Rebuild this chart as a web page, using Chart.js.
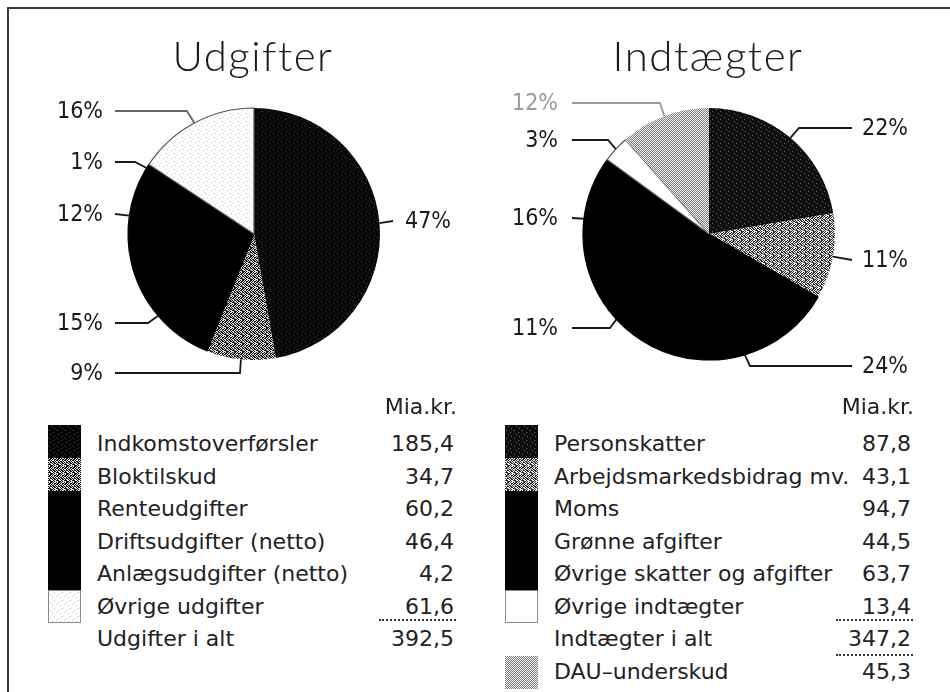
<!DOCTYPE html>
<html>
<head>
<meta charset="utf-8">
<script src="https://cdn.jsdelivr.net/npm/chart.js@4.4.1/dist/chart.umd.min.js"></script>
<style>
  html, body { margin: 0; padding: 0; background: #fff; }
  body { width: 950px; height: 692px; position: relative; overflow: hidden; font-family: 'DejaVu Sans', sans-serif; color: #222; }
  .frameTop { position: absolute; left: 7px; top: 7px; width: 943px; height: 0; border-top: 2px solid #3a3a3a; }
  .frameLeft { position: absolute; left: 7px; top: 7px; width: 0; height: 685px; border-left: 2px solid #3a3a3a; }
  canvas.pie { position: absolute; top: 0; }
  .txt { position: absolute; font-size: 22px; line-height: 26px; white-space: nowrap; }
  .val { text-align: right; }
  .sw { position: absolute; box-sizing: border-box; }
  .rule { position: absolute; height: 0; border-top: 2px dotted #333; }
</style>
</head>
<body>
<div class="frameTop"></div>
<div class="frameLeft"></div>
<canvas id="cUdg" class="pie" width="475" height="400" style="left:0px"></canvas>
<canvas id="cInd" class="pie" width="475" height="400" style="left:475px"></canvas>
<div id="legend"></div>
<script>
// ---------------- data ----------------
const udgTitle = 'Udgifter';
const udgLabels = ['Indkomstoverførsler', 'Bloktilskud', 'Renteudgifter', 'Driftsudgifter (netto)', 'Anlægsudgifter (netto)', 'Øvrige udgifter'];
const udgValues = [185.4, 34.7, 60.2, 46.4, 4.2, 61.6];
const udgTotalLabel = 'Udgifter i alt';

const indTitle = 'Indtægter';
const indLabels = ['Personskatter', 'Arbejdsmarkedsbidrag mv.', 'Moms', 'Grønne afgifter', 'Øvrige skatter og afgifter', 'Øvrige indtægter'];
const indValues = [87.8, 43.1, 94.7, 44.5, 63.7, 13.4];
const indTotalLabel = 'Indtægter i alt';
const dauLabel = 'DAU–underskud';
const dauValue = 45.3;

const unitLabel = 'Mia.kr.';

// ---------------- styles (patterns) ----------------
function tile(mask, dark, light) {
  const h = mask.length, w = mask[0].length;
  const c = document.createElement('canvas');
  c.width = w; c.height = h;
  const g = c.getContext('2d');
  for (let y = 0; y < h; y++) for (let x = 0; x < w; x++) {
    g.fillStyle = mask[y][x] === '1' ? dark : light;
    g.fillRect(x, y, 1, 1);
  }
  return c;
}
const mottle = ['10110100','01101011','11010010','00101101','10110110','01001011','11100100','00111010'];
const specks = ['11111111','11101111','11111111','11111101','11111111','10111111','11111111','11111011'];
const dots   = ['00000000','00000100','00000000','01000000','00000000','00000001','00010000','00000000'];
const tiles = {
  blackSpeck: tile(specks, '#080808', '#444444'),
  blackSpeck2: tile(specks, '#0e0e0e', '#666666'),
  mottleDark: tile(mottle, '#141414', '#d8d8d8'),
  mottleLight: tile(mottle, '#2a2a2a', '#f2f2f2'),
  check: tile(['10','01'], '#7a7a7a', '#f4f4f4'),
  dotted: tile(dots, '#c4c4c4', '#fdfdfd'),
};
const pctx = document.createElement('canvas').getContext('2d');
const pat = k => pctx.createPattern(tiles[k], 'repeat');
const cssBg = k => 'url(' + tiles[k].toDataURL() + ')';

const udgStyle = ['blackSpeck', 'mottleDark', '#000', '#000', '#000', 'dotted'];
const indStyle = ['blackSpeck2', 'mottleLight', '#000', '#000', '#000', '#ffffff', 'check'];
const fillOf = s => tiles[s] ? pat(s) : s;
const cssOf = s => tiles[s] ? cssBg(s) : s;
const isLight = s => (s === 'dotted' || s === '#ffffff');

// label layout (page coordinates): text anchor, line start, elbow
const udgLayout = [
  { align: 'left',  tx: 405, y: 221, ls: 393, elbow: null },
  { align: 'right', tx: 103, y: 373, ls: 115, elbow: 240 },
  { align: 'right', tx: 103, y: 323, ls: 115, elbow: 148 },
  { align: 'right', tx: 103, y: 214, ls: 115, elbow: null },
  { align: 'right', tx: 103, y: 162, ls: 115, elbow: 135 },
  { align: 'right', tx: 103, y: 111, ls: 115, elbow: 187, lineColor: '#666' },
];
const indLayout = [
  { align: 'left',  tx: 862, y: 128, ls: 852, elbow: 799 },
  { align: 'left',  tx: 862, y: 260, ls: 852, elbow: null },
  { align: 'left',  tx: 862, y: 366, ls: 852, elbow: 750 },
  { align: 'right', tx: 558, y: 328, ls: 572, elbow: 610 },
  { align: 'right', tx: 558, y: 218, ls: 572, elbow: null },
  { align: 'right', tx: 558, y: 140, ls: 572, elbow: 608 },
  { align: 'right', tx: 558, y: 103, ls: 572, elbow: 660, color: '#9a9a9a', lineColor: '#9a9a9a' },
];

const leaderPlugin = {
  id: 'leaderLabels',
  afterDatasetsDraw(chart, args, opts) {
    const ctx = chart.ctx;
    const meta = chart.getDatasetMeta(0);
    const data = chart.data.datasets[0].data;
    const total = data.reduce((a, b) => a + b, 0);
    const off = opts.offsetX;
    ctx.save();
    meta.data.forEach((arc, i) => {
      const L = opts.layout[i];
      const p = arc.getProps(['x', 'y', 'startAngle', 'endAngle', 'outerRadius'], true);
      const mid = (p.startAngle + p.endAngle) / 2;
      const ex = p.x + Math.cos(mid) * p.outerRadius;
      const ey = p.y + Math.sin(mid) * p.outerRadius;
      ctx.beginPath();
      ctx.strokeStyle = L.lineColor || '#1a1a1a';
      ctx.lineWidth = 1.8;
      ctx.moveTo(L.ls - off, L.y);
      if (L.elbow !== null) ctx.lineTo(L.elbow - off, L.y);
      ctx.lineTo(ex, ey);
      ctx.stroke();
      ctx.fillStyle = L.color || '#1a1a1a';
      ctx.font = "23px 'DejaVu Sans Condensed', 'DejaVu Sans'";
      ctx.textAlign = L.align;
      ctx.textBaseline = 'middle';
      ctx.fillText(Math.round(data[i] / total * 100) + '%', L.tx - off, L.y + 1);
    });
    // title
    const ca = chart.chartArea;
    ctx.fillStyle = '#1a1a1a';
    ctx.font = "300 42px Lato, 'Open Sans', 'DejaVu Sans'";
    if ('letterSpacing' in ctx) ctx.letterSpacing = '1.5px';
    ctx.textAlign = 'center';
    ctx.textBaseline = 'alphabetic';
    ctx.fillText(opts.title, (ca.left + ca.right) / 2 - 1, 71);
    ctx.restore();
  }
};

function makePie(id, labels, values, styles, layout, title, offsetX, padding) {
  return new Chart(document.getElementById(id), {
    type: 'pie',
    data: {
      labels: labels,
      datasets: [{
        data: values,
        backgroundColor: styles.map(fillOf),
        borderColor: styles.map(s => isLight(s) ? '#555' : (s === '#000' ? '#000' : 'rgba(0,0,0,0)')),
        borderWidth: styles.map(s => (isLight(s) || s === '#000') ? 1.2 : 0),
      }]
    },
    options: {
      responsive: false,
      animation: false,
      radius: 126,
      layout: { padding: padding },
      plugins: {
        legend: { display: false },
        tooltip: { enabled: false },
        leaderLabels: { layout: layout, title: title, offsetX: offsetX },
      }
    },
    plugins: [leaderPlugin]
  });
}

function drawAll() {
  makePie('cUdg', udgLabels, udgValues, udgStyle, udgLayout, udgTitle, 0, { left: 128, right: 95, top: 108, bottom: 40 });
  makePie('cInd', indLabels.concat([dauLabel]), indValues.concat([dauValue]), indStyle, indLayout, indTitle, 475, { left: 108, right: 115, top: 108, bottom: 40 });
}

// ---------------- legend tables ----------------
const fmt = v => v.toFixed(1).replace('.', ',');
const lg = document.getElementById('legend');
function add(cls, text, left, baseline, width, extra) {
  const d = document.createElement('div');
  d.className = 'txt ' + cls;
  d.textContent = text;
  d.style.left = left + 'px';
  d.style.top = (baseline - 20.6) + 'px';
  if (width) d.style.width = width + 'px';
  if (extra) Object.assign(d.style, extra);
  lg.appendChild(d);
}
function swatch(left, top, style) {
  const d = document.createElement('div');
  d.className = 'sw';
  d.style.left = left + 'px';
  d.style.top = top + 'px';
  d.style.width = '33px';
  d.style.height = '33px';
  d.style.background = cssOf(style);
  if (isLight(style)) d.style.border = '1px solid #8a8a8a';
  lg.appendChild(d);
}
function rule(left, top, width) {
  const d = document.createElement('div');
  d.className = 'rule';
  d.style.left = left + 'px';
  d.style.top = top + 'px';
  d.style.width = width + 'px';
  lg.appendChild(d);
}
function table(opts) {
  add('val', unitLabel, opts.valRight + 3 - 120, 415, 120);
  opts.labels.forEach((lab, i) => {
    const b = 452 + 32.5 * i;
    swatch(opts.swLeft, 425 + 33 * i, opts.styles[i]);
    add('', lab, opts.textLeft, b);
    add('val', fmt(opts.values[i]), opts.valRight - 120, b, 120);
  });
  const n = opts.labels.length;
  const total = opts.values.reduce((a, b) => a + b, 0);
  add('', opts.totalLabel, opts.textLeft, 452 + 32.5 * n);
  add('val', fmt(total), opts.valRight - 120, 452 + 32.5 * n, 120);
  rule(opts.valRight - 75, 619, 77);
}
table({ labels: udgLabels, values: udgValues, styles: udgStyle, totalLabel: udgTotalLabel, swLeft: 48, textLeft: 97, valRight: 454 });
table({ labels: indLabels, values: indValues, styles: indStyle, totalLabel: indTotalLabel, swLeft: 505, textLeft: 554, valRight: 911 });
rule(911 - 75, 654, 77);
swatch(505, 425 + 33 * 7, indStyle[6]);
add('', dauLabel, 554, 452 + 32.5 * 7);
add('val', fmt(dauValue), 911 - 120, 452 + 32.5 * 7, 120);

if (document.fonts && document.fonts.load) {
  Promise.all([
    document.fonts.load("300 42px Lato"),
    document.fonts.load("23px 'DejaVu Sans Condensed'")
  ]).then(drawAll, drawAll);
} else {
  drawAll();
}
</script>
</body>
</html>
